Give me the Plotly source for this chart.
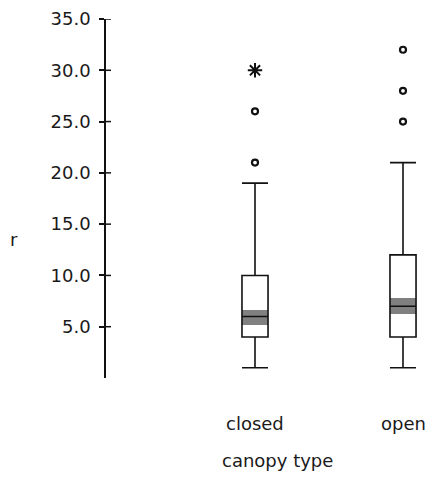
import plotly.graph_objects as go

categories = ["closed", "open"]
q1 = [4.0, 4.0]
medians = [6.0, 7.0]
q3 = [10.0, 12.0]
lower_whisker = [1.0, 1.0]
upper_whisker = [19.0, 21.0]
ci_low = [5.2, 6.2]
ci_high = [6.6, 7.8]
outlier_cat = ["closed", "closed", "open", "open", "open"]
outlier_val = [21.0, 26.0, 25.0, 28.0, 32.0]
extreme_cat = ["closed"]
extreme_val = [30.0]
y_ticks = [5, 10, 15, 20, 25, 30, 35]

FONT = "DejaVu Sans"
BW = 0.176
PLOT_W = 322

fig = go.Figure()

# gray median confidence band
fig.add_trace(go.Bar(
    x=categories, base=ci_low, y=[h - l for h, l in zip(ci_high, ci_low)],
    width=BW, marker=dict(color="#808080", line=dict(width=0)),
    showlegend=False, hoverinfo="skip"))

fig.add_trace(go.Box(
    x=categories, q1=q1, median=medians, q3=q3,
    lowerfence=lower_whisker, upperfence=upper_whisker,
    width=BW, whiskerwidth=1, boxpoints=False,
    fillcolor="rgba(0,0,0,0)", line=dict(color="#111111", width=1.6),
    showlegend=False))

fig.add_trace(go.Scatter(
    x=outlier_cat, y=outlier_val, mode="markers",
    marker=dict(symbol="circle-open", size=6, color="#111111", line=dict(width=2.2)),
    showlegend=False))
fig.add_trace(go.Scatter(
    x=extreme_cat, y=extreme_val, mode="markers",
    marker=dict(symbol="asterisk-open", size=12, color="#111111", line=dict(width=2)),
    showlegend=False))

# inner half of the crossing tick marks
inner_ticks = [
    dict(type="line", xref="paper", yref="y", x0=0, x1=5 / PLOT_W, y0=v, y1=v,
         line=dict(color="#111111", width=1.5), layer="above")
    for v in y_ticks
]

fig.update_layout(
    width=428, height=479,
    margin=dict(l=106, r=0, t=19, b=101),
    paper_bgcolor="white", plot_bgcolor="white",
    font=dict(family=FONT, size=18, color="#1a1a1a"),
    bargap=0,
    shapes=inner_ticks,
    xaxis=dict(type="category", categoryorder="array", categoryarray=categories,
               range=[-1.0068, 1.1689], showline=False, showgrid=False,
               zeroline=False, showticklabels=False, ticks=""),
    yaxis=dict(range=[0, 35], tickvals=y_ticks, tickformat=".1f",
               showline=True, linecolor="#111111", linewidth=1.5,
               ticks="outside", ticklen=5, tickwidth=1.5, tickcolor="#111111",
               showgrid=False, zeroline=False, ticklabelstandoff=5),
    annotations=[
        dict(x=c, y=-0.1257, xref="x", yref="paper", text=c, showarrow=False,
             xanchor="center", yanchor="middle", font=dict(size=18))
        for c in categories
    ] + [
        dict(x=0.5311, y=-0.229, xref="paper", yref="paper", text="canopy type",
             showarrow=False, xanchor="center", yanchor="middle", font=dict(size=18)),
        dict(x=-0.2857, y=0.3855, xref="paper", yref="paper", text="r",
             showarrow=False, xanchor="center", yanchor="middle", font=dict(size=18)),
    ],
)

fig.write_html("out.html")
